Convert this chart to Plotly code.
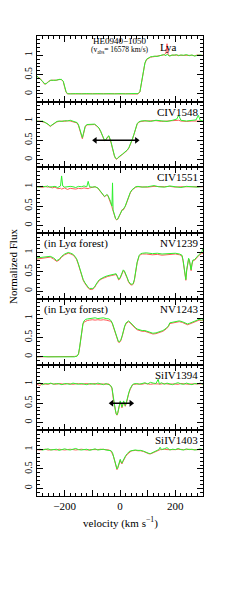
import plotly.graph_objects as go
from plotly.subplots import make_subplots

# ---------------- DATA ----------------
labels = ["Lya", "CIV1548", "CIV1551", "NV1239", "NV1243", "SiIV1394", "SiIV1403"]
forest_rows = [4, 5]
forest_text = "(in Lyα forest)"
title_line1 = "HE0940−1050"
title_line2 = "(v<sub>abs</sub>= 16578 km/s)"

v1 = [-300,-290,-280,-272,-265,-258,-250,-240,-230,-220, -212,-205,-200,-195,-190,-180,-160,-140,-120,-100,
      -80,-60,-40,-20,0,20,40,55,65,72, 78,84,90,96,102,110,118,126,134,142,
      150,158,166,170,174,180,188,196,204,212, 220,230,240,250,260,270,280,290,300]
g1 = [0.46,0.40,0.33,0.26,0.27,0.32,0.36,0.35,0.36,0.37, 0.38,0.33,0.18,0.06,0.01,0.0,0.01,0.0,0.01,0.0,
      0.01,0.0,0.01,0.0,0.01,0.0,0.01,0.0,0.01,0.06, 0.3,0.6,0.8,0.9,0.93,0.96,0.97,0.98,0.97,0.99,
      1.0,1.02,0.99,1.03,1.0,0.98,1.01,1.0,1.02,0.99, 1.01,1.0,1.02,0.99,1.01,0.98,1.0,1.01,0.99]
r1 = [0.45,0.41,0.32,0.25,0.28,0.33,0.35,0.36,0.35,0.38, 0.37,0.32,0.17,0.05,0.0,0.01,0.0,0.01,0.0,0.01,
      0.0,0.01,0.0,0.01,0.0,0.01,0.0,0.01,0.0,0.05, 0.28,0.58,0.79,0.89,0.92,0.95,0.96,0.97,0.98,0.98,
      0.99,1.01,1.05,1.3,1.02,0.99,1.0,1.01,1.0,1.0, 1.0,1.01,1.0,1.0,1.0,0.99,1.01,1.0,1.0]

v2 = [-300,-290,-280,-270,-260,-252,-244,-236,-228,-220, -210,-200,-190,-180,-170,-160,-155,-150,-145,-140,
      -136,-132,-126,-120,-110,-100,-92,-84,-76,-70, -64,-60,-56,-52,-48,-44,-40,-36,-32,-28,
      -24,-20,-16,-12,-8,-4,0,4,8,14, 20,26,32,38,44,50,56,62,68,76,
      90,110,130,150,170,190,205,212,220,240, 260,275,283,290,300]
g2 = [1.0,0.99,1.0,0.97,0.92,0.87,0.91,0.96,0.99,1.0, 0.99,1.01,1.0,1.02,0.99,0.98,0.96,0.9,0.76,0.61,
      0.57,0.68,0.86,0.91,0.92,0.93,0.92,0.88,0.82,0.74, 0.63,0.55,0.5,0.51,0.56,0.6,0.62,0.55,0.45,0.33,
      0.2,0.1,0.04,0.02,0.05,0.08,0.1,0.12,0.14,0.17, 0.2,0.25,0.31,0.4,0.52,0.65,0.8,0.93,0.98,1.0,
      1.01,0.99,1.02,1.0,0.99,1.02,1.05,1.15,1.02,1.0, 1.01,1.03,1.15,1.02,1.0]
r2 = [0.99,1.0,0.98,0.96,0.91,0.86,0.9,0.95,0.98,0.99, 1.0,0.99,1.01,1.0,0.98,0.97,0.95,0.88,0.74,0.58,
      0.54,0.66,0.84,0.9,0.91,0.92,0.91,0.87,0.81,0.73, 0.62,0.54,0.49,0.5,0.55,0.59,0.6,0.53,0.43,0.31,
      0.18,0.09,0.03,0.01,0.04,0.07,0.09,0.11,0.13,0.16, 0.19,0.24,0.3,0.39,0.51,0.64,0.79,0.92,0.97,0.99,
      1.0,1.0,1.01,0.99,1.0,1.01,1.0,1.02,1.0,0.99, 1.0,1.01,1.0,1.0,0.99]

v3 = [-300,-290,-280,-270,-262,-255,-245,-235,-225,-215, -211,-207,-200,-190,-180,-170,-160,-150,-140,-130,
      -120,-115,-110,-100,-90,-80,-74,-68,-62,-56, -52,-48,-44,-40,-34,-29,-27,-25,-20,-16,
      -12,-8,-5,0,4,8,12,16,19,25, 31,37,43,50,57,65,80,100,123,140,
      160,180,200,220,240,260,280,300]
g3 = [1.0,0.99,1.01,1.0,1.02,0.99,1.0,1.01,0.98,1.02, 1.28,1.02,0.99,1.0,1.01,1.0,0.98,1.01,1.0,1.02,
      1.0,1.14,1.0,0.99,1.0,0.97,0.92,0.86,0.8,0.75, 0.77,0.8,0.78,0.72,0.62,0.5,1.1,0.4,0.25,0.18,
      0.15,0.17,0.22,0.3,0.38,0.4,0.42,0.45,0.5,0.62, 0.75,0.85,0.92,0.97,1.0,1.01,0.99,1.0,1.03,1.0,
      0.99,1.02,1.0,0.98,1.01,1.0,0.99,1.01]
r3 = [1.0,1.0,0.98,1.01,0.99,1.0,0.97,0.99,0.95,0.96, 0.94,0.95,0.97,0.93,0.96,0.95,0.94,0.96,0.95,0.97,
      0.96,0.95,0.97,0.99,1.0,0.96,0.91,0.85,0.79,0.74, 0.76,0.79,0.77,0.7,0.6,0.48,0.42,0.38,0.24,0.17,
      0.14,0.16,0.2,0.28,0.36,0.41,0.4,0.44,0.49,0.6, 0.74,0.84,0.91,0.96,0.99,1.0,1.0,0.99,1.01,1.0,
      1.0,1.01,0.99,1.0,1.0,0.99,1.0,1.0]

v4 = [-300,-290,-276,-264,-252,-240,-229,-220,-211,-200, -187,-178,-169,-163,-157,-151,-145,-139,-133,-127,
      -121,-115,-110,-104,-98,-92,-86,-80,-74,-65, -56,-44,-32,-22,-14,-9,-5,0,4,8,
      12,16,21,26,31,35,39,44,48,52, 57,62,69,75,81,95,117,135,152,175,
      200,215,224,228,232,235,238,241,245,248, 251,254,257,260,263,270,277,286,295,300]
g4 = [0.86,0.87,0.88,0.9,0.9,0.86,0.79,0.82,0.9,0.96, 1.0,0.98,0.95,0.9,0.84,0.72,0.56,0.42,0.3,0.22,
      0.15,0.1,0.07,0.06,0.07,0.11,0.19,0.25,0.3,0.34, 0.37,0.4,0.42,0.43,0.45,0.38,0.31,0.34,0.4,0.5,
      0.55,0.52,0.45,0.35,0.25,0.2,0.18,0.18,0.2,0.3, 0.5,0.75,0.92,0.97,0.98,0.99,0.97,0.98,0.96,0.97,
      0.98,0.96,0.93,0.8,0.6,0.35,0.3,0.55,0.8,0.85, 0.8,0.65,0.55,0.7,0.8,0.82,0.88,0.95,1.0,1.1]
r4 = [0.83,0.84,0.85,0.87,0.88,0.83,0.77,0.8,0.88,0.94, 0.98,0.96,0.93,0.88,0.82,0.7,0.54,0.4,0.28,0.2,
      0.13,0.08,0.05,0.04,0.05,0.09,0.17,0.23,0.28,0.32, 0.35,0.38,0.4,0.41,0.43,0.36,0.29,0.32,0.38,0.48,
      0.53,0.5,0.43,0.33,0.23,0.18,0.16,0.16,0.18,0.28, 0.48,0.73,0.9,0.95,0.96,0.96,0.94,0.95,0.93,0.95,
      0.96,0.94,0.91,0.78,0.58,0.33,0.28,0.53,0.78,0.83, 0.78,0.63,0.53,0.68,0.78,0.8,0.86,0.93,0.97,0.98]

v5 = [-300,-280,-260,-240,-220,-200,-180,-165,-155,-150, -146,-142,-138,-134,-130,-124,-118,-110,-100,-90,
      -80,-70,-60,-50,-40,-34,-28,-22,-16,-11, -6,-2,3,8,12,17,22,27,31,36,
      42,48,55,62,71,80,90,100,110,119, 130,143,155,167,175,180,190,200,214,225,
      235,244,252,262,272,286,294,300]
g5 = [0.0,0.01,0.0,0.0,0.01,0.0,0.01,0.0,0.02,0.08, 0.25,0.5,0.72,0.86,0.93,0.97,0.98,0.99,1.0,1.01,
      0.99,1.0,1.01,0.99,0.98,0.95,0.88,0.75,0.6,0.47, 0.4,0.39,0.44,0.55,0.68,0.8,0.88,0.92,0.93,0.9,
      0.85,0.8,0.76,0.72,0.7,0.68,0.68,0.66,0.63,0.61, 0.62,0.65,0.68,0.74,0.8,0.88,0.9,0.92,0.93,0.91,
      0.88,0.85,0.87,0.9,0.93,0.97,0.95,0.96]
r5 = [0.0,0.0,0.01,0.0,0.0,0.01,0.0,0.01,0.02,0.07, 0.23,0.48,0.7,0.84,0.9,0.93,0.94,0.95,0.96,0.95,
      0.96,0.95,0.96,0.95,0.94,0.92,0.86,0.73,0.58,0.45, 0.38,0.37,0.42,0.53,0.66,0.78,0.86,0.9,0.91,0.88,
      0.83,0.78,0.74,0.7,0.68,0.66,0.66,0.64,0.61,0.59, 0.6,0.63,0.66,0.72,0.78,0.86,0.88,0.9,0.91,0.89,
      0.86,0.83,0.85,0.88,0.91,0.95,0.94,0.95]

v6 = [-300,-290,-280,-270,-260,-250,-240,-230,-220,-210, -200,-190,-180,-170,-160,-150,-140,-130,-120,-110,
      -100,-90,-80,-70,-60,-50,-40,-34,-29,-24, -20,-17,-14,-11,-8,-5,-2,1,4,7,
      10,13,16,19,23,27,32,37,41,45, 50,60,70,80,90,100,110,120,130,138,
      142,150,160,170,180,190,200,210,220,230, 240,250,260,270,280,290,300]
g6 = [1.0,1.03,0.98,1.01,1.0,1.02,0.99,1.01,1.0,0.98, 1.01,1.0,0.99,1.02,1.0,0.99,1.01,1.0,0.98,1.01,
      1.0,0.99,1.02,1.0,0.98,1.01,0.99,0.96,0.9,0.62, 0.45,0.33,0.24,0.2,0.26,0.36,0.48,0.56,0.48,0.4,
      0.47,0.56,0.5,0.44,0.52,0.65,0.78,0.88,0.95,0.98, 1.0,1.01,0.99,1.02,1.03,1.0,1.04,1.02,1.01,1.12,
      1.0,1.03,0.99,1.02,1.0,0.98,1.01,1.03,1.0,0.99, 1.02,1.0,0.98,1.01,1.0,1.02,0.99]
r6 = [0.99,0.96,1.0,1.0,0.99,1.01,1.0,0.99,1.01,1.0, 0.99,1.01,1.0,0.99,1.0,1.01,0.99,1.0,1.01,0.99,
      1.0,1.01,0.99,1.0,1.0,0.99,1.0,0.95,0.88,0.6, 0.43,0.31,0.22,0.19,0.24,0.34,0.46,0.54,0.46,0.38,
      0.45,0.54,0.48,0.42,0.5,0.63,0.76,0.86,0.93,0.97, 0.99,1.0,1.0,0.99,1.01,1.0,0.99,1.0,1.01,1.0,
      0.99,1.0,1.01,1.0,0.99,1.0,1.0,0.99,1.01,1.0, 1.0,0.99,1.0,1.0,1.01,1.0,1.0]

v7 = [-300,-290,-280,-270,-260,-250,-240,-230,-220,-210, -200,-190,-180,-170,-160,-150,-140,-130,-120,-110,
      -100,-90,-80,-70,-60,-50,-40,-32,-27,-24, -20,-17,-14,-11,-8,-5,-2,1,4,7,
      10,13,16,21,27,33,40,45,55,65, 75,85,93,99,105,111,117,123,130,140,
      145,150,160,170,180,190,200,210,220,230, 240,250,260,270,280,290,300]
g7 = [1.0,1.01,0.99,1.0,1.02,0.99,1.0,1.01,0.98,1.0, 1.02,1.0,0.99,1.01,1.03,1.0,0.99,1.0,1.01,0.98,
      1.0,1.02,0.99,1.0,1.01,0.99,0.98,0.97,0.92,0.85, 0.75,0.66,0.56,0.5,0.54,0.62,0.72,0.75,0.68,0.65,
      0.7,0.75,0.78,0.85,0.9,0.95,0.97,0.98,0.99,0.98, 0.98,0.96,0.93,0.91,0.9,0.9,0.92,0.95,0.98,1.0,
      1.06,1.0,1.02,1.05,0.99,1.01,1.0,1.03,1.0,0.99, 1.02,1.0,1.01,0.99,1.0,1.02,1.0]
r7 = [1.0,0.99,1.0,1.01,0.99,1.0,1.0,0.99,1.01,1.0, 0.99,1.0,1.01,1.0,0.99,1.0,1.01,1.0,0.99,1.0,
      1.0,0.99,1.0,1.01,1.0,1.0,0.99,0.96,0.9,0.83, 0.73,0.64,0.54,0.48,0.52,0.6,0.7,0.73,0.66,0.63,
      0.68,0.73,0.76,0.83,0.88,0.93,0.96,0.97,0.98,0.97, 0.97,0.95,0.92,0.9,0.89,0.89,0.91,0.94,0.97,0.99,
      1.0,1.0,1.01,1.0,1.0,0.99,1.0,1.01,1.0,1.0, 1.0,1.01,1.0,1.0,0.99,1.0,1.0]

panels = [(v1, g1, r1), (v2, g2, r2), (v3, g3, r3), (v4, g4, r4),
          (v5, g5, r5), (v6, g6, r6), (v7, g7, r7)]

# double-headed arrows: row -> (v_start, v_end, flux)
arrows = {2: (-90, 60, 0.5), 6: (-30, 40, 0.5)}

x_tickvals = [-200, -100, 0, 100, 200]
x_ticktext = ["−200", "", "0", "", "200"]
y_tickvals = [0, 0.5, 1]
y_ticktext = ["0", "0.5", "1"]

# ---------------- STYLE ----------------
RED = "#ff5a5a"
GREEN = "#2ef02e"
FONT = "Liberation Serif"

fig = make_subplots(rows=7, cols=1, shared_xaxes=True, vertical_spacing=0)

for i, (v, g, r) in enumerate(panels, start=1):
    fig.add_hline(y=0, line=dict(color="black", dash="dash", width=1), layer="below", row=i, col=1)
    fig.add_hline(y=1, line=dict(color="black", dash="dash", width=1), layer="below", row=i, col=1)
    fig.add_vline(x=0, line=dict(color="#aaaaaa", dash="dot", width=1), layer="below", row=i, col=1)
    fig.add_trace(go.Scatter(x=v, y=r, mode="lines", line=dict(color=RED, width=1),
                             showlegend=False, hoverinfo="skip"), row=i, col=1)
    fig.add_trace(go.Scatter(x=v, y=g, mode="lines", line=dict(color=GREEN, width=1),
                             showlegend=False, hoverinfo="skip"), row=i, col=1)
    if i in arrows:
        a, b, f = arrows[i]
        fig.add_trace(go.Scatter(x=[a, b], y=[f, f], mode="lines+markers",
                                 line=dict(color="black", width=1.5),
                                 marker=dict(symbol=["triangle-left", "triangle-right"], size=6, color="black"),
                                 showlegend=False, hoverinfo="skip"), row=i, col=1)
    yref = "y domain" if i == 1 else f"y{i} domain"
    xref = "x domain" if i == 1 else f"x{i} domain"
    if i == 1:
        fig.add_annotation(x=0.79, y=0.84, xref=xref, yref=yref, text=labels[0], showarrow=False,
                           font=dict(family=FONT, size=11, color="black"), xanchor="center", yanchor="middle")
        fig.add_annotation(x=0.5, y=0.92, xref=xref, yref=yref, text=title_line1, showarrow=False,
                           font=dict(family=FONT, size=9, color="black"), xanchor="center", yanchor="middle")
        fig.add_annotation(x=0.5, y=0.79, xref=xref, yref=yref, text=title_line2, showarrow=False,
                           font=dict(family=FONT, size=7.5, color="black"), xanchor="center", yanchor="middle")
    else:
        fig.add_annotation(x=1, y=1, xref=xref, yref=yref, text=labels[i - 1], showarrow=False,
                           xshift=-3, yshift=-2,
                           font=dict(family=FONT, size=11, color="black"), xanchor="right", yanchor="top")
    if i in forest_rows:
        fig.add_annotation(x=0, y=1, xref=xref, yref=yref, text=forest_text, showarrow=False,
                           xshift=5, yshift=-2,
                           font=dict(family=FONT, size=11, color="black"), xanchor="left", yanchor="top")

fig.update_xaxes(range=[-300, 300], showgrid=False, zeroline=False, showline=True, linecolor="black",
                 linewidth=1, mirror="allticks", ticks="inside", ticklen=6, tickcolor="black",
                 tickvals=x_tickvals, ticktext=x_ticktext, automargin=False,
                 minor=dict(dtick=20, ticklen=3, ticks="inside", tickcolor="black"),
                 tickfont=dict(family=FONT, size=11, color="black"))
fig.update_yaxes(range=[-0.2, 1.5], showgrid=False, zeroline=False, showline=True, linecolor="black",
                 linewidth=1, mirror="allticks", ticks="inside", ticklen=6, tickcolor="black",
                 tickvals=y_tickvals, ticktext=y_ticktext, tickangle=-90, automargin=False,
                 minor=dict(dtick=0.1, ticklen=3, ticks="inside", tickcolor="black"),
                 tickfont=dict(family=FONT, size=10, color="black"))

fig.add_annotation(x=-0.145, y=0.5, xref="paper", yref="paper", text="Normalized Flux", textangle=-90,
                   showarrow=False, font=dict(family=FONT, size=11, color="black"),
                   xanchor="center", yanchor="middle")
fig.add_annotation(x=0.5, y=-0.057, xref="paper", yref="paper", text="velocity (km s<sup>−1</sup>)",
                   showarrow=False, font=dict(family=FONT, size=11, color="black"),
                   xanchor="center", yanchor="middle")

fig.update_layout(width=240, height=598, margin=dict(l=29, r=45, t=28, b=110),
                  plot_bgcolor="white", paper_bgcolor="white", showlegend=False)

fig.write_html("out.html")
